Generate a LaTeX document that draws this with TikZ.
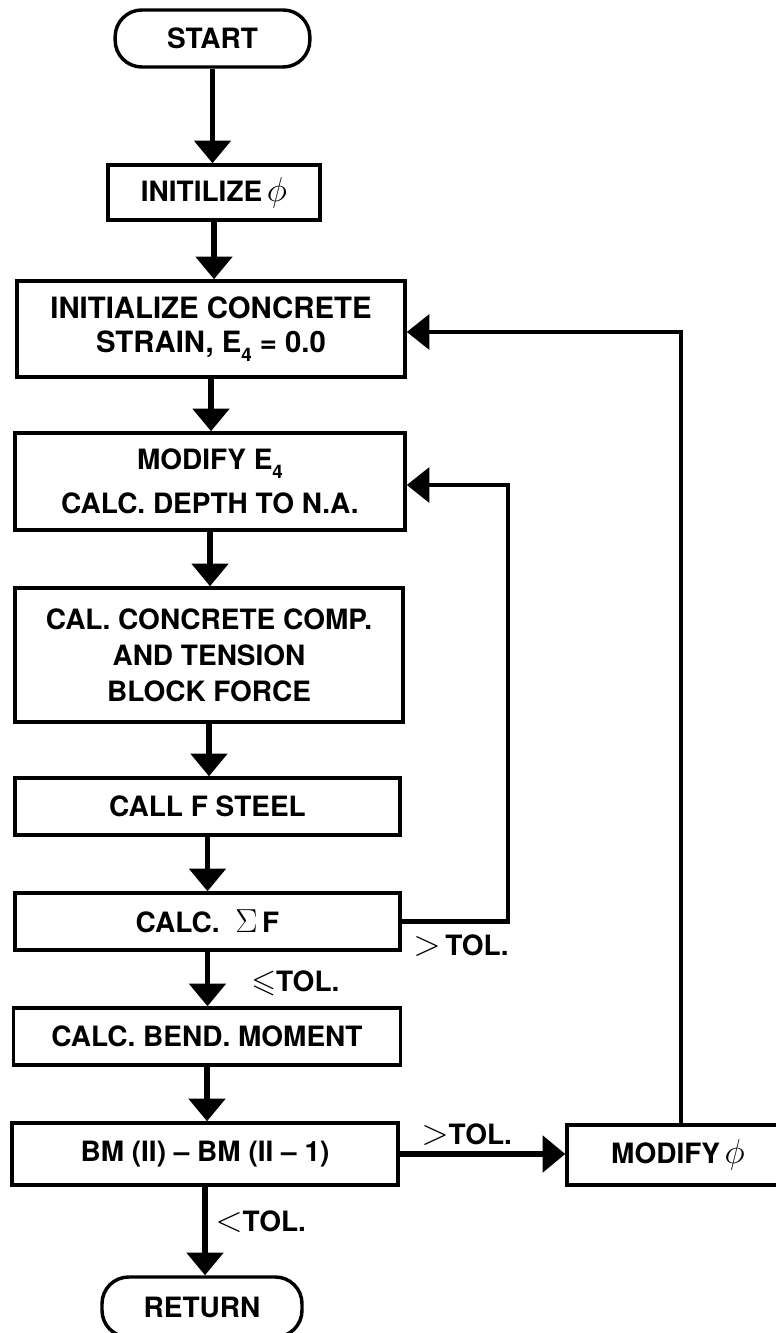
\RequirePackage{fix-cm}
\documentclass[tikz,border=0pt]{standalone}
\usepackage{fontspec}
\usepackage{amssymb}
\setmainfont{TeX Gyre Heros}
\usetikzlibrary{arrows.meta}
\newcommand\mysub[1]{\raisebox{-0.55ex}{\fontsize{14}{14}\selectfont #1}}
\newcommand\fbig{\fontsize{21}{26}\selectfont\bfseries}
\newcommand\mysym[2]{{\fontsize{#1}{#1}\selectfont$#2$}}
\tikzset{
  box/.style={draw, line width=2.6pt, inner sep=0pt, align=center, font=\fbig},
  term/.style={box, rounded corners=20pt},
  arr/.style={line width=4pt, -{Triangle[width=27pt,length=17pt]}},
  loopline/.style={line width=3.6pt, -{Triangle[width=26pt,length=17pt]}},
  lbl/.style={inner sep=0pt, font=\fbig}
}
\begin{document}
\begin{tikzpicture}[x=0.75pt,y=-0.75pt]
\useasboundingbox (0,0) rectangle (775,1333);
\node[term, minimum width=146pt, minimum height=42.75pt] (start) at (212.5,38.5) {START};
\node[box, minimum width=159pt, minimum height=41.25pt] (init) at (214,192.5) {INITILIZE\,\mysym{26}{\phi}};
\node[box, minimum width=291pt, minimum height=72pt, font=\fontsize{22}{25.5}\selectfont\bfseries] (b3) at (211,329) {INITIALIZE CONCRETE\\STRAIN, E\mysub{4} = 0.0};
\node[box, minimum width=292.5pt, minimum height=72.75pt] (b4) at (210,481.5) {MODIFY E\mysub{4}\\[7pt]CALC. DEPTH TO N.A.};
\node[box, minimum width=291pt, minimum height=100.5pt, font=\fontsize{21}{27}\selectfont\bfseries] (b5) at (209,655) {CAL. CONCRETE COMP.\\AND TENSION\\BLOCK FORCE};
\node[box, minimum width=288.75pt, minimum height=42.75pt] (b6) at (207.5,806.5) {CALL F STEEL};
\node[box, minimum width=288.75pt, minimum height=42.75pt] (b7) at (207.5,921.5) {CALC.\ \ \mysym{25}{\Sigma}\,F};
\node[box, minimum width=290.25pt, minimum height=42.75pt] (b8) at (207,1036.5) {CALC. BEND. MOMENT};
\node[box, minimum width=289.5pt, minimum height=46.5pt] (b9) at (205,1154) {BM (II) -- BM (II -- 1)};
\node[box, minimum width=166.5pt, minimum height=45pt] (mod) at (678,1155) {MODIFY\,\mysym{26}{\phi}};
\node[term, minimum width=150pt, minimum height=45pt] (ret) at (202,1307) {RETURN};

\draw[arr] (start.south) -- (start.south |- init.north);
\draw[arr] (init.south) -- (init.south |- b3.north);
\draw[arr] (b3.south) -- (b3.south |- b4.north);
\draw[arr] (b4.south) -- (b4.south |- b5.north);
\draw[arr] (b5.south) -- (b5.south |- b6.north);
\draw[arr] (b6.south) -- (b6.south |- b7.north);
\draw[arr] (b7.south) -- (b7.south |- b8.north);
\draw[arr] (b8.south) -- (b8.south |- b9.north);
\draw[arr] (b9.south) -- (b9.south |- ret.north);
\draw[arr] (b9.east) -- (b9.east -| mod.west);

\coordinate (k1) at (508,485);
\draw[loopline] (b7.east) -| (k1) -- (b4.east |- k1);
\coordinate (k2) at (681,332);
\draw[loopline] (mod.north -| k2) -- (k2) -- (b3.east |- k2);

\node[lbl, anchor=west] (g1) at (413,946) {\mysym{27}{>}\,TOL.};
\node[lbl, anchor=west] (g2) at (251,983) {\mysym{24}{\leqslant}TOL.};
\node[lbl, anchor=west] (g3) at (421,1135) {\mysym{27}{>}TOL.};
\node[lbl, anchor=west] (g4) at (215,1222) {\mysym{27}{<}TOL.};
\end{tikzpicture}
\end{document}
